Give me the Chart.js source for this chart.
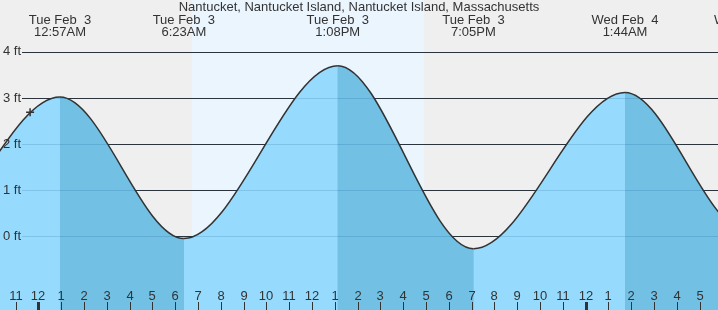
<!DOCTYPE html>
<html>
<head>
<meta charset="utf-8">
<script src="https://cdn.jsdelivr.net/npm/chart.js@4.4.1/dist/chart.umd.min.js"></script>
<style>
  html, body { margin: 0; padding: 0; background: #efefef; }
  #wrap { width: 718px; height: 310px; }
</style>
</head>
<body>
<div id="wrap"><canvas id="tideChart" width="718" height="310"></canvas></div>
<script>
const chartTitle = "Nantucket, Nantucket Island, Nantucket Island, Massachusetts";

// turning points, hours counted from midnight Tue Feb 3
const tideHours = [-11.8, -5.54, 0.95, 6.383, 13.133, 19.083, 25.733, 31.1, 37.3];
const tideFeet = [3.3, -0.2, 3.02, -0.05, 3.7, -0.27, 3.12, 0.1, 3.5];

const eventDays = ["Tue Feb  3", "Tue Feb  3", "Tue Feb  3", "Tue Feb  3", "Wed Feb  4", "Wed Feb  4"];
const eventTimes = ["12:57AM", "6:23AM", "1:08PM", "7:05PM", "1:44AM", "7:06AM"];
const eventHours = [0.95, 6.383, 13.133, 19.083, 25.733, 31.1];

const nowHour = [-0.36];
const nowFeet = [2.69];

const daylight = [6.74, 16.92]; // sunrise, sunset
const feetTicks = [0, 1, 2, 3, 4];
const hourTicks = [-1, 0, 1, 2, 3, 4, 5, 6, 7, 8, 9, 10, 11, 12, 13, 14, 15, 16, 17, 18, 19, 20, 21, 22, 23, 24, 25, 26, 27, 28, 29];
const hourLabels = ["11", "12", "1", "2", "3", "4", "5", "6", "7", "8", "9", "10", "11", "12", "1", "2", "3", "4", "5", "6", "7", "8", "9", "10", "11", "12", "1", "2", "3", "4", "5"];
const midnightHours = [0, 24];

const FONT = "13px 'Liberation Sans', Arial, sans-serif";
const INK = "#333";
const RISING = "#96dbfd";
const FALLING = "#72c0e4";

const tideDecor = {
  id: "tideDecor",
  beforeDraw(chart) {
    const { ctx, width, height } = chart;
    const x = chart.scales.x;
    ctx.save();
    ctx.fillStyle = "#efefef";
    ctx.fillRect(0, 0, width, height);
    const x0 = x.getPixelForValue(daylight[0]);
    const x1 = x.getPixelForValue(daylight[1]);
    ctx.fillStyle = "#ebf5fe";
    ctx.fillRect(x0, 0, x1 - x0, height);
    ctx.restore();
  },
  beforeDatasetsDraw(chart) {
    const { ctx, width } = chart;
    const y = chart.scales.y;
    ctx.save();
    ctx.strokeStyle = INK;
    ctx.lineWidth = 1;
    feetTicks.forEach((v) => {
      const py = Math.round(y.getPixelForValue(v)) + 0.5;
      ctx.beginPath();
      ctx.moveTo(22, py);
      ctx.lineTo(width, py);
      ctx.stroke();
    });
    ctx.restore();
  },
  afterDatasetsDraw(chart) {
    const { ctx, width, height } = chart;
    const x = chart.scales.x;
    const y = chart.scales.y;
    ctx.save();

    // grid showing faintly through the water
    ctx.strokeStyle = "rgba(0, 60, 120, 0.15)";
    ctx.lineWidth = 1;
    feetTicks.forEach((v) => {
      const py = Math.round(y.getPixelForValue(v)) + 0.5;
      ctx.beginPath();
      ctx.moveTo(22, py);
      ctx.lineTo(width, py);
      ctx.stroke();
    });

    ctx.font = FONT;
    ctx.fillStyle = INK;

    // feet labels
    ctx.textAlign = "left";
    ctx.textBaseline = "middle";
    feetTicks.forEach((v) => {
      ctx.fillText(v + " ft", 3, y.getPixelForValue(v));
    });

    // hour labels and ticks
    ctx.textAlign = "center";
    hourTicks.forEach((h, i) => {
      const px = Math.round(x.getPixelForValue(h));
      ctx.fillText(hourLabels[i], px, 296);
      const wide = midnightHours.includes(h);
      ctx.fillRect(wide ? px - 1 : px, 302, wide ? 3 : 1, height - 302);
    });

    // title and high/low labels
    ctx.fillText(chartTitle, width / 2, 7);
    eventHours.forEach((h, i) => {
      const px = x.getPixelForValue(h);
      ctx.fillText(eventDays[i], px, 20);
      ctx.fillText(eventTimes[i], px, 32);
    });
    ctx.restore();
  },
};

const tidePoints = tideHours.map((h, i) => ({ x: h, y: tideFeet[i] }));

new Chart(document.getElementById("tideChart"), {
  type: "line",
  data: {
    datasets: [
      {
        type: "scatter",
        data: nowHour.map((h, i) => ({ x: h, y: nowFeet[i] })),
        pointStyle: "cross",
        pointRadius: 4,
        borderColor: INK,
        borderWidth: 1.5,
      },
      {
        data: tidePoints,
        borderColor: INK,
        borderWidth: 1.5,
        pointRadius: 0,
        cubicInterpolationMode: "monotone",
        capBezierPoints: false,
        fill: "start",
        backgroundColor: RISING,
        segment: {
          backgroundColor: (c) => (c.p1.parsed.y > c.p0.parsed.y ? RISING : FALLING),
        },
      },
      {
        // plain underlay so segment seams don't show
        data: tidePoints,
        borderWidth: 0,
        pointRadius: 0,
        cubicInterpolationMode: "monotone",
        capBezierPoints: false,
        fill: "start",
        backgroundColor: FALLING,
      },
    ],
  },
  options: {
    responsive: false,
    animation: false,
    events: [],
    layout: { padding: 0, autoPadding: false },
    scales: {
      x: { type: "linear", min: -1.68, max: 29.81, display: false },
      y: { min: -1.6, max: 5.125, display: false },
    },
    plugins: { legend: { display: false }, tooltip: { enabled: false } },
  },
  plugins: [tideDecor],
});
</script>
</body>
</html>
